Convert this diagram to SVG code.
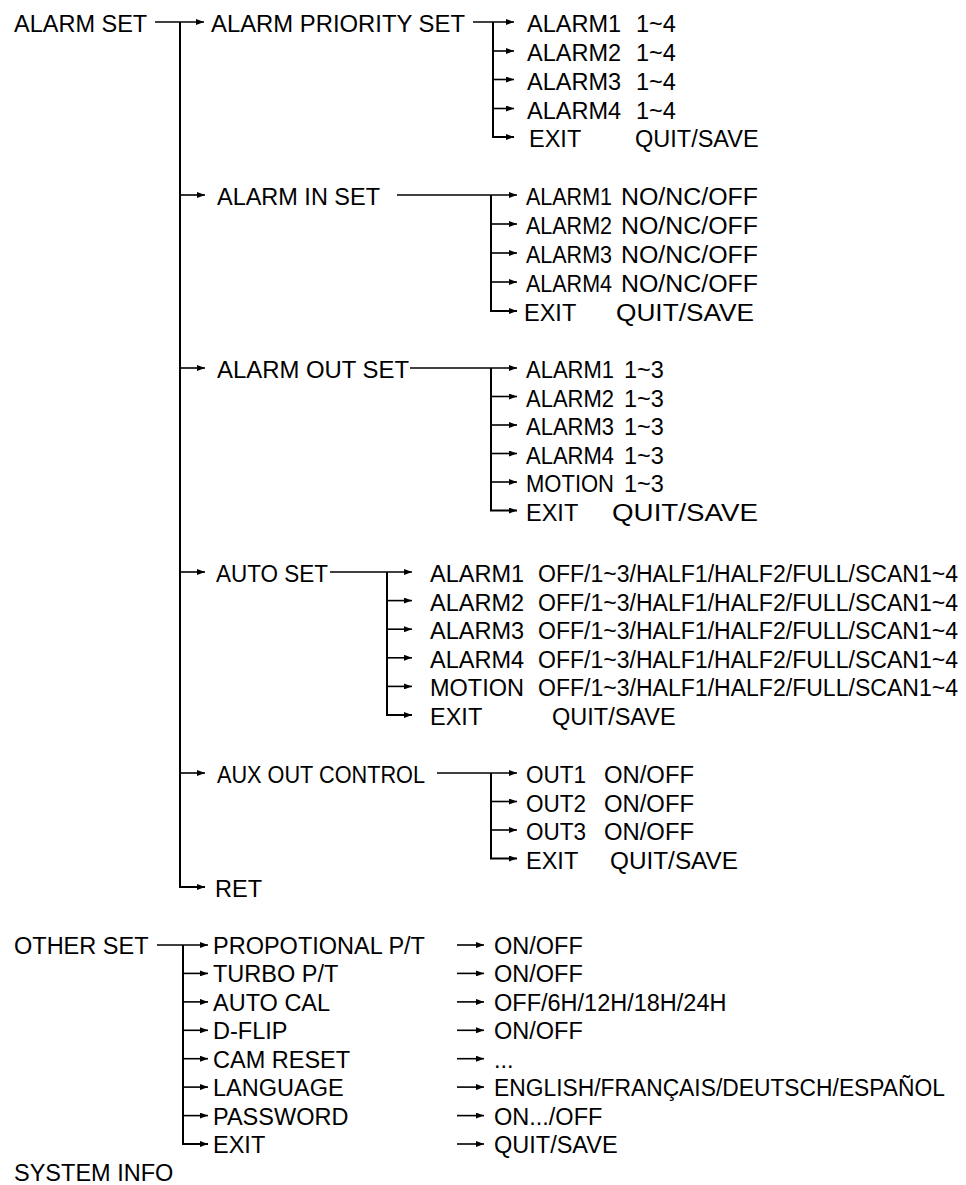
<svg xmlns="http://www.w3.org/2000/svg" width="966" height="1185" viewBox="0 0 966 1185">
<style>
text{font-family:"Liberation Sans",Arial,Helvetica,sans-serif;font-size:23.5px;fill:#000}
.c path{fill:none;stroke:#000;stroke-width:1.6}
.c .v{stroke-width:2}
</style>
<defs>
<marker id="ah" markerUnits="userSpaceOnUse" markerWidth="8" markerHeight="6" refX="8" refY="3" orient="auto"><path d="M0,0 L8,3 L0,6 z" fill="#000"/></marker>
</defs>
<rect width="966" height="1185" fill="#fff"/>
<g id="connectors" class="c">
<path d="M155,22 H204" marker-end="url(#ah)"/>
<path class="v" d="M180,22 V887 H205" marker-end="url(#ah)"/>
<path d="M180,195 H205" marker-end="url(#ah)"/>
<path d="M180,368 H205" marker-end="url(#ah)"/>
<path d="M180,572 H205" marker-end="url(#ah)"/>
<path d="M180,773 H205" marker-end="url(#ah)"/>
<path d="M473,22 H514" marker-end="url(#ah)"/>
<path class="v" d="M493,22 V137 H514" marker-end="url(#ah)"/>
<path d="M493,51 H514" marker-end="url(#ah)"/>
<path d="M493,79.5 H514" marker-end="url(#ah)"/>
<path d="M493,108.5 H514" marker-end="url(#ah)"/>
<path d="M397,195 H517" marker-end="url(#ah)"/>
<path class="v" d="M491,195 V311 H517" marker-end="url(#ah)"/>
<path d="M491,224 H517" marker-end="url(#ah)"/>
<path d="M491,253 H517" marker-end="url(#ah)"/>
<path d="M491,282 H517" marker-end="url(#ah)"/>
<path d="M410,368 H517" marker-end="url(#ah)"/>
<path class="v" d="M491,368 V510.5 H517" marker-end="url(#ah)"/>
<path d="M491,396.5 H517" marker-end="url(#ah)"/>
<path d="M491,425 H517" marker-end="url(#ah)"/>
<path d="M491,453.5 H517" marker-end="url(#ah)"/>
<path d="M491,482 H517" marker-end="url(#ah)"/>
<path d="M330,572 H412" marker-end="url(#ah)"/>
<path class="v" d="M387,572 V715 H412" marker-end="url(#ah)"/>
<path d="M387,600.6 H412" marker-end="url(#ah)"/>
<path d="M387,629.2 H412" marker-end="url(#ah)"/>
<path d="M387,657.8 H412" marker-end="url(#ah)"/>
<path d="M387,686.4 H412" marker-end="url(#ah)"/>
<path d="M437,773 H517" marker-end="url(#ah)"/>
<path class="v" d="M491,773 V858.5 H517" marker-end="url(#ah)"/>
<path d="M491,801.5 H517" marker-end="url(#ah)"/>
<path d="M491,830 H517" marker-end="url(#ah)"/>
<path d="M157,945 H208" marker-end="url(#ah)"/>
<path class="v" d="M183,945 V1144 H208" marker-end="url(#ah)"/>
<path d="M183,973.4 H208" marker-end="url(#ah)"/>
<path d="M183,1001.9 H208" marker-end="url(#ah)"/>
<path d="M183,1030.3 H208" marker-end="url(#ah)"/>
<path d="M183,1058.7 H208" marker-end="url(#ah)"/>
<path d="M183,1087.1 H208" marker-end="url(#ah)"/>
<path d="M183,1115.6 H208" marker-end="url(#ah)"/>
<path d="M457,945 H484" marker-end="url(#ah)"/>
<path d="M457,973.4 H484" marker-end="url(#ah)"/>
<path d="M457,1001.9 H484" marker-end="url(#ah)"/>
<path d="M457,1030.3 H484" marker-end="url(#ah)"/>
<path d="M457,1058.7 H484" marker-end="url(#ah)"/>
<path d="M457,1087.1 H484" marker-end="url(#ah)"/>
<path d="M457,1115.6 H484" marker-end="url(#ah)"/>
<path d="M457,1144 H484" marker-end="url(#ah)"/>
</g>
<g id="alarm-set"><text x="14" y="32">ALARM SET</text></g>
<g id="alarm-priority-set"><text x="211" y="32" textLength="254" lengthAdjust="spacingAndGlyphs">ALARM PRIORITY SET</text></g>
<g id="prio-alarm1"><text x="527" y="32">ALARM1</text><text x="636" y="32">1~4</text></g>
<g id="prio-alarm2"><text x="527" y="61">ALARM2</text><text x="636" y="61">1~4</text></g>
<g id="prio-alarm3"><text x="527" y="89.5">ALARM3</text><text x="636" y="89.5">1~4</text></g>
<g id="prio-alarm4"><text x="527" y="118.5">ALARM4</text><text x="636" y="118.5">1~4</text></g>
<g id="prio-exit"><text x="529" y="147">EXIT</text><text x="635" y="147">QUIT/SAVE</text></g>
<g id="alarm-in-set"><text x="217" y="205" textLength="163" lengthAdjust="spacingAndGlyphs">ALARM IN SET</text></g>
<g id="in-alarm1"><text x="526" y="205" textLength="86" lengthAdjust="spacingAndGlyphs">ALARM1</text><text x="621" y="205" textLength="137" lengthAdjust="spacingAndGlyphs">NO/NC/OFF</text></g>
<g id="in-alarm2"><text x="526" y="234" textLength="86" lengthAdjust="spacingAndGlyphs">ALARM2</text><text x="621" y="234" textLength="137" lengthAdjust="spacingAndGlyphs">NO/NC/OFF</text></g>
<g id="in-alarm3"><text x="526" y="263" textLength="86" lengthAdjust="spacingAndGlyphs">ALARM3</text><text x="621" y="263" textLength="137" lengthAdjust="spacingAndGlyphs">NO/NC/OFF</text></g>
<g id="in-alarm4"><text x="526" y="292" textLength="86" lengthAdjust="spacingAndGlyphs">ALARM4</text><text x="621" y="292" textLength="137" lengthAdjust="spacingAndGlyphs">NO/NC/OFF</text></g>
<g id="in-exit"><text x="524" y="321">EXIT</text><text x="616" y="321" textLength="138" lengthAdjust="spacingAndGlyphs">QUIT/SAVE</text></g>
<g id="alarm-out-set"><text x="217" y="378" textLength="192" lengthAdjust="spacingAndGlyphs">ALARM OUT SET</text></g>
<g id="out-alarm1"><text x="526" y="378" textLength="88" lengthAdjust="spacingAndGlyphs">ALARM1</text><text x="624" y="378">1~3</text></g>
<g id="out-alarm2"><text x="526" y="406.5" textLength="88" lengthAdjust="spacingAndGlyphs">ALARM2</text><text x="624" y="406.5">1~3</text></g>
<g id="out-alarm3"><text x="526" y="435" textLength="88" lengthAdjust="spacingAndGlyphs">ALARM3</text><text x="624" y="435">1~3</text></g>
<g id="out-alarm4"><text x="526" y="463.5" textLength="88" lengthAdjust="spacingAndGlyphs">ALARM4</text><text x="624" y="463.5">1~3</text></g>
<g id="out-motion"><text x="526" y="492" textLength="88" lengthAdjust="spacingAndGlyphs">MOTION</text><text x="624" y="492">1~3</text></g>
<g id="out-exit"><text x="526" y="520.5">EXIT</text><text x="612" y="520.5" textLength="146" lengthAdjust="spacingAndGlyphs">QUIT/SAVE</text></g>
<g id="auto-set"><text x="216" y="582" textLength="112" lengthAdjust="spacingAndGlyphs">AUTO SET</text></g>
<g id="auto-alarm1"><text x="430" y="582">ALARM1</text><text x="538" y="582" textLength="420" lengthAdjust="spacingAndGlyphs">OFF/1~3/HALF1/HALF2/FULL/SCAN1~4</text></g>
<g id="auto-alarm2"><text x="430" y="610.6">ALARM2</text><text x="538" y="610.6" textLength="420" lengthAdjust="spacingAndGlyphs">OFF/1~3/HALF1/HALF2/FULL/SCAN1~4</text></g>
<g id="auto-alarm3"><text x="430" y="639.2">ALARM3</text><text x="538" y="639.2" textLength="420" lengthAdjust="spacingAndGlyphs">OFF/1~3/HALF1/HALF2/FULL/SCAN1~4</text></g>
<g id="auto-alarm4"><text x="430" y="667.8">ALARM4</text><text x="538" y="667.8" textLength="420" lengthAdjust="spacingAndGlyphs">OFF/1~3/HALF1/HALF2/FULL/SCAN1~4</text></g>
<g id="auto-motion"><text x="430" y="696.4">MOTION</text><text x="538" y="696.4" textLength="420" lengthAdjust="spacingAndGlyphs">OFF/1~3/HALF1/HALF2/FULL/SCAN1~4</text></g>
<g id="auto-exit"><text x="430" y="725">EXIT</text><text x="552" y="725">QUIT/SAVE</text></g>
<g id="aux-out-control"><text x="217" y="783" textLength="208" lengthAdjust="spacingAndGlyphs">AUX OUT CONTROL</text></g>
<g id="aux-out1"><text x="526" y="783" textLength="60" lengthAdjust="spacingAndGlyphs">OUT1</text><text x="604" y="783" textLength="90" lengthAdjust="spacingAndGlyphs">ON/OFF</text></g>
<g id="aux-out2"><text x="526" y="811.5" textLength="60" lengthAdjust="spacingAndGlyphs">OUT2</text><text x="604" y="811.5" textLength="90" lengthAdjust="spacingAndGlyphs">ON/OFF</text></g>
<g id="aux-out3"><text x="526" y="840" textLength="60" lengthAdjust="spacingAndGlyphs">OUT3</text><text x="604" y="840" textLength="90" lengthAdjust="spacingAndGlyphs">ON/OFF</text></g>
<g id="aux-exit"><text x="526" y="868.5">EXIT</text><text x="610" y="868.5" textLength="128" lengthAdjust="spacingAndGlyphs">QUIT/SAVE</text></g>
<g id="ret"><text x="215" y="897">RET</text></g>
<g id="other-set"><text x="14" y="954">OTHER SET</text></g>
<g id="propotional"><text x="213" y="954">PROPOTIONAL P/T</text><text x="494" y="954">ON/OFF</text></g>
<g id="turbo"><text x="213" y="982.4">TURBO P/T</text><text x="494" y="982.4">ON/OFF</text></g>
<g id="auto-cal"><text x="213" y="1010.9">AUTO CAL</text><text x="494" y="1010.9">OFF/6H/12H/18H/24H</text></g>
<g id="d-flip"><text x="213" y="1039.3">D-FLIP</text><text x="494" y="1039.3">ON/OFF</text></g>
<g id="cam-reset"><text x="213" y="1067.7">CAM RESET</text><text x="494" y="1067.7">...</text></g>
<g id="language"><text x="213" y="1096.1">LANGUAGE</text><text x="494" y="1096.1" textLength="451" lengthAdjust="spacingAndGlyphs">ENGLISH/FRANÇAIS/DEUTSCH/ESPAÑOL</text></g>
<g id="password"><text x="213" y="1124.6">PASSWORD</text><text x="494" y="1124.6">ON.../OFF</text></g>
<g id="other-exit"><text x="213" y="1153">EXIT</text><text x="494" y="1153">QUIT/SAVE</text></g>
<g id="system-info"><text x="14" y="1181">SYSTEM INFO</text></g>
</svg>
